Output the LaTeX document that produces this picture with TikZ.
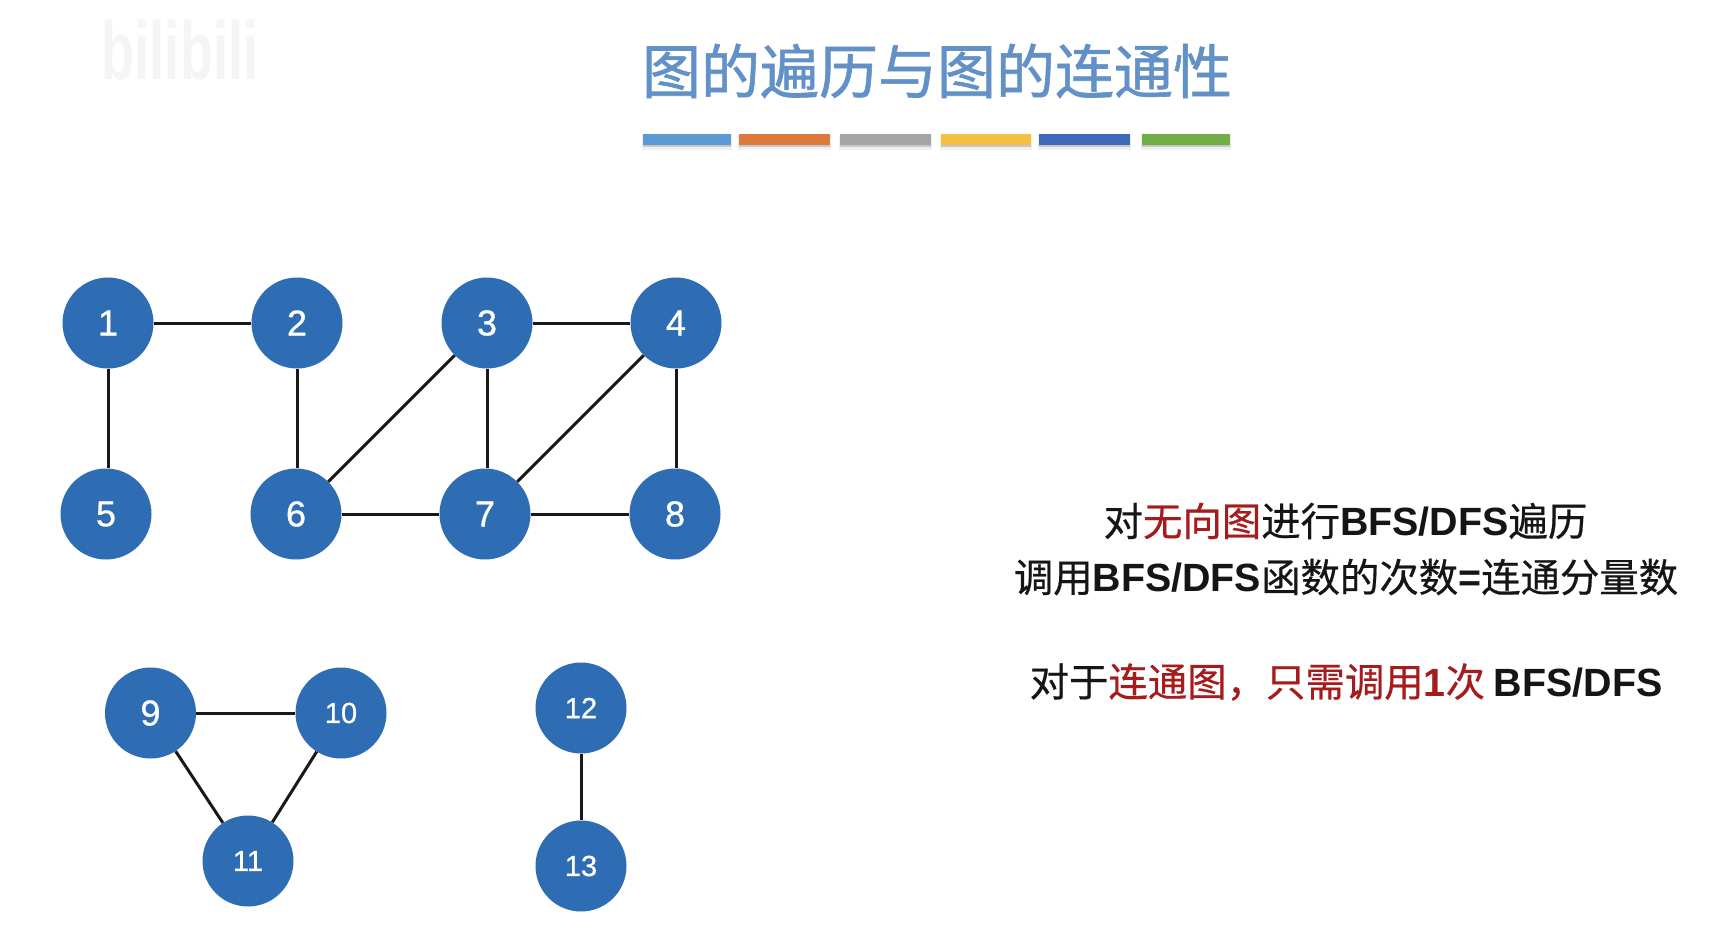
\documentclass[tikz,border=0pt]{standalone}
\usepackage{fontspec}
\setmainfont{Liberation Sans}
\newfontfamily\cjkb[FakeBold=0.5]{Noto Sans CJK SC}
\newfontfamily\cjkt[FakeBold=1.0]{Noto Sans CJK SC}
\newfontfamily\lat{Liberation Sans}[BoldFont={Liberation Sans Bold}]
\newfontfamily\latm[FakeBold=0.8]{Liberation Sans}
\definecolor{nodeblue}{HTML}{2E6DB4}
\definecolor{titleblue}{HTML}{6291C8}
\definecolor{hired}{HTML}{A61C1C}
\definecolor{txt}{HTML}{151515}
\definecolor{barA}{HTML}{5B9BD5}
\definecolor{barB}{HTML}{DD7A3B}
\definecolor{barC}{HTML}{A5A5A5}
\definecolor{barD}{HTML}{F5BF42}
\definecolor{barE}{HTML}{3F68B8}
\definecolor{barF}{HTML}{70AD47}
\newcommand{\lb}[1]{{\lat\bfseries #1}}
\newcommand{\rd}[1]{{\color{hired}#1}}
\tikzset{
  vertex/.style={circle,fill=nodeblue,draw=none,minimum size=91pt,inner sep=0pt,text=white,font=\latm\fontsize{36}{36}\selectfont},
  vertexsmall/.style={vertex,font=\latm\fontsize{29}{29}\selectfont},
  edgeline/.style={draw=black!90,line width=3pt},
  caption/.style={font=\cjkb\fontsize{39.4}{39.4}\selectfont,text=txt,inner sep=0pt,anchor=center},
  barshadow/.style={fill=black!22,draw=none},
}
\newcommand{\colorbar}[3]{%
  \fill[black!6] (#1-1,135) rectangle (#2+1,150);
  \fill[barshadow] (#1,137) rectangle (#2,147);
  \fill[#3] (#1,134) rectangle (#2,145);}
\begin{document}
\begin{tikzpicture}[x=1pt,y=-1pt]
\useasboundingbox (0,0) rectangle (1735,948);
\fill[white] (0,0) rectangle (1735,948);
\node[inner sep=0pt,text=black!4,font=\lat\bfseries\fontsize{66}{66}\selectfont,xscale=0.82,yscale=1.25] (wm) at (180,50) {bilibili};
\node[inner sep=0pt,text=titleblue,font=\cjkt\fontsize{59}{59}\selectfont] (title) at (937,71) {图的遍历与图的连通性};
\colorbar{643}{731}{barA}
\colorbar{739}{830}{barB}
\colorbar{840}{931}{barC}
\colorbar{941}{1031}{barD}
\colorbar{1039}{1130}{barE}
\colorbar{1142}{1230}{barF}
\node[vertex] (n1) at (108,323) {1};
\node[vertex] (n2) at (297,323) {2};
\node[vertex] (n3) at (487,323) {3};
\node[vertex] (n4) at (676,323) {4};
\node[vertex] (n5) at (106,514) {5};
\node[vertex] (n6) at (296,514) {6};
\node[vertex] (n7) at (485,514) {7};
\node[vertex] (n8) at (675,514) {8};
\node[vertex] (n9) at (150.5,713) {9};
\node[vertexsmall] (n10) at (341,713) {10};
\node[vertexsmall] (n11) at (248,861) {11};
\node[vertexsmall] (n12) at (581,708) {12};
\node[vertexsmall] (n13) at (581,866) {13};
\draw[edgeline] (n1) -- (n2);
\draw[edgeline] (n3) -- (n4);
\draw[edgeline] (n6) -- (n7);
\draw[edgeline] (n7) -- (n8);
\draw[edgeline] (n9) -- (n10);
\draw[edgeline] (n1.south) -- (n1.south |- n5.north);
\draw[edgeline] (n2.south) -- (n2.south |- n6.north);
\draw[edgeline] (n3.south) -- (n3.south |- n7.north);
\draw[edgeline] (n4.south) -- (n4.south |- n8.north);
\draw[edgeline] (n12) -- (n13);
\draw[edgeline] (n3) -- (n6);
\draw[edgeline] (n4) -- (n7);
\draw[edgeline] (n9) -- (n11);
\draw[edgeline] (n10) -- (n11);
\node[caption] (l1) at (1345.5,521) {对\rd{无向图}进行\lb{BFS/DFS}遍历};
\node[caption] (l2) at (1346,577) {调用\lb{BFS/DFS}函数的次数\lb{=}连通分量数};
\node[caption] (l3) at (1346,682) {对于\rd{连通图，只需调用\lb{1}次} \lb{BFS/DFS}};
\end{tikzpicture}
\end{document}
